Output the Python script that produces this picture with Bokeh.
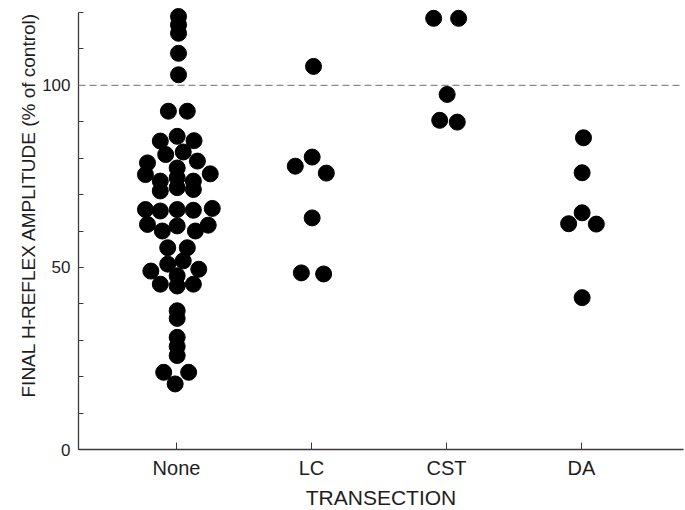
from bokeh.plotting import figure
from bokeh.models import (ColumnDataSource, Span, FixedTicker, SingleIntervalTicker,
                          Range1d, Title)
from bokeh.embed import file_html
from bokeh.resources import INLINE

# ---- data ----
categories = ["None", "LC", "CST", "DA"]

none_vals = [118.9, 116.6, 114.3, 108.8, 102.9, 92.9, 92.9, 86.0, 84.7, 84.8,
             81.0, 81.7, 78.7, 79.2, 77.3, 75.5, 75.7, 73.7, 74.6, 73.7,
             71.0, 71.9, 71.4, 65.9, 65.5, 65.9, 65.7, 66.2, 61.8, 60.0,
             61.4, 60.0, 61.6, 55.4, 55.4, 51.8, 50.9, 49.0, 49.5, 47.7,
             45.4, 44.9, 45.4, 38.1, 36.0, 30.8, 28.3, 25.8, 21.2, 21.2, 18.0]
none_dx = [0.015, 0.015, 0.015, 0.015, 0.015, -0.06, 0.08, 0.005, -0.12, 0.13,
           -0.08, 0.05, -0.215, 0.155, 0.005, -0.23, 0.25, -0.12, 0.005, 0.125,
           -0.12, 0.005, 0.125, -0.23, -0.12, 0.005, 0.125, 0.265, -0.215, -0.105,
           0.005, 0.14, 0.235, -0.065, 0.08, 0.05, -0.065, -0.19, 0.165, 0.005,
           -0.12, 0.005, 0.125, 0.005, 0.005, 0.005, 0.005, 0.005, -0.095, 0.09, -0.01]

lc_vals = [105.2, 80.3, 77.8, 75.9, 63.6, 48.5, 48.2]
lc_dx = [0.015, 0.005, -0.12, 0.11, 0.005, -0.075, 0.09]

cst_vals = [118.4, 118.4, 97.5, 90.4, 89.9]
cst_dx = [-0.095, 0.09, 0.005, -0.05, 0.08]

da_vals = [85.6, 76.0, 65.0, 62.0, 61.9, 41.7]
da_dx = [0.015, 0.005, 0.005, -0.095, 0.11, 0.005]

reference_level = 100
x_title = "TRANSECTION"
y_title = "FINAL H-REFLEX AMPLITUDE (% of control)"

groups = [none_vals, lc_vals, cst_vals, da_vals]
offsets = [none_dx, lc_dx, cst_dx, da_dx]

xs, ys = [], []
for i, (vals, dxs) in enumerate(zip(groups, offsets)):
    for v, d in zip(vals, dxs):
        xs.append(i + 1 + d)
        ys.append(v)
src = ColumnDataSource(data=dict(x=xs, y=ys))

FONT = "Liberation Sans"
AX = "#3a3a3a"
TXT = "#1e1e1e"

p = figure(width=685, height=510, output_backend="svg", toolbar_location=None,
           x_range=Range1d(0.274, 4.756), y_range=Range1d(0, 122.2),
           min_border_left=78, min_border_right=2, min_border_top=4,
           min_border_bottom=61)
p.outline_line_color = None
p.background_fill_color = "white"
p.border_fill_color = "white"
p.xgrid.visible = False
p.ygrid.visible = False

p.add_layout(Span(location=reference_level, dimension="width",
                  line_color="#8a8a8a", line_width=1.3, line_dash="7 4"))

p.scatter("x", "y", source=src, size=16, marker="circle",
          fill_color="black", line_color="black")

# x axis
xa = p.xaxis[0]
xa.ticker = FixedTicker(ticks=[1, 2, 3, 4])
xa.major_label_overrides = {i + 1: c for i, c in enumerate(categories)}
xa.major_label_text_font = FONT
xa.major_label_text_font_size = "20px"
xa.major_label_text_color = TXT
xa.major_label_standoff = 7
xa.major_tick_in = 7
xa.major_tick_out = 0
xa.minor_tick_in = 0
xa.minor_tick_out = 0
xa.axis_line_color = AX
xa.axis_line_width = 1.3
xa.major_tick_line_color = AX

# y axis
ya = p.yaxis[0]
ya.ticker = SingleIntervalTicker(interval=50, num_minor_ticks=5)
ya.bounds = (0, 120)
ya.major_label_text_font = FONT
ya.major_label_text_font_size = "17px"
ya.major_label_text_color = TXT
ya.major_label_standoff = 8
ya.major_tick_in = 5
ya.major_tick_out = 0
ya.minor_tick_in = 5
ya.minor_tick_out = 0
ya.axis_line_color = AX
ya.axis_line_width = 1.3
ya.major_tick_line_color = AX
ya.minor_tick_line_color = AX

# axis titles
p.add_layout(Title(text=x_title, align="center", standoff=4,
                   text_font=FONT, text_font_size="21px", text_font_style="normal",
                   text_color=TXT), "below")
p.add_layout(Title(text=y_title, align="left", offset=52, standoff=2,
                   text_font=FONT, text_font_size="19px", text_font_style="normal",
                   text_color=TXT), "left")

open("out.html", "w").write(file_html(p, INLINE))
